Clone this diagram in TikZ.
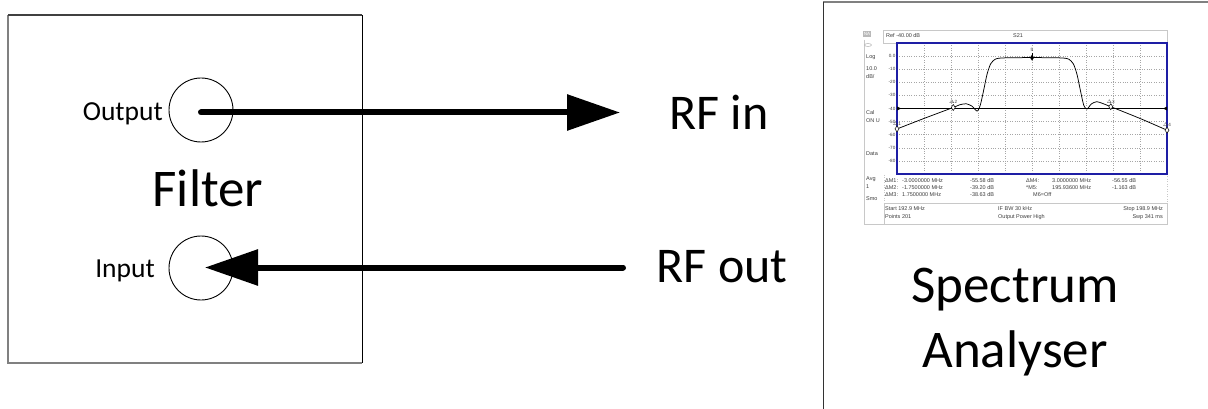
\documentclass[tikz,border=0pt]{standalone}
\usepackage{fontspec}
\setmainfont{Carlito}
\newfontfamily\scrfont{Liberation Sans}
\usetikzlibrary{arrows.meta}
\definecolor{plotblue}{RGB}{30,30,165}
\definecolor{scrtext}{RGB}{60,60,60}
\definecolor{framegray}{RGB}{200,200,200}
\begin{document}
\begin{tikzpicture}[x=1pt,y=-1pt,
  big/.style={font=\fontsize{50}{60}\selectfont, inner sep=0pt},
  huge/.style={font=\fontsize{53}{65}\selectfont, inner sep=0pt, align=center},
  portlbl/.style={font=\fontsize{27.5}{32}\selectfont, inner sep=0pt},
  port/.style={circle, draw, line width=0.9pt, minimum size=64pt, inner sep=0pt},
  conn/.style={line width=6pt, line cap=round, -{Triangle[length=53pt,width=35pt]}},
  sc/.style={font=\scrfont\fontsize{5.5}{6}\selectfont, inner sep=0pt, text=scrtext},
  scs/.style={font=\scrfont\fontsize{4.6}{5}\selectfont, inner sep=0pt, text=scrtext},
  gridl/.style={draw=gray!70, line width=0.4pt, dotted},
  mk/.style={draw=black, line width=0.5pt, fill=white},
]
\useasboundingbox (0,0) rectangle (1208,409);

% ---------- Filter box ----------
\draw[line width=2pt, draw=gray] (8,15) -- (8,363) -- (362,363);
\draw[line width=1.2pt, draw=black!75] (8,15) -- (362,15);
\draw[line width=1pt, draw=black] (362,15) -- (362,363);

\node[port] (outport) at (201,110) {};
\node[port] (inport) at (201,268) {};
\node[portlbl, anchor=base east] (outlbl) at (163,121) {Output};
\node[portlbl, anchor=base east] (inlbl) at (155,277) {Input};
\node[huge, anchor=base] (filter) at (208,207) {Filter};

% ---------- connectors ----------
\coordinate (outstart) at (201,112.5);
\coordinate (rfintip) at (620,112.5);
\coordinate (rfoutstart) at (623,267.5);
\coordinate (intip) at (205,267.5);
\draw[conn] (outstart) -- (rfintip);
\draw[conn] (rfoutstart) -- (intip);
\node[big, anchor=base] (rfin) at (719,130) {RF in};
\node[big, anchor=base] (rfout) at (722,282) {RF out};

% ---------- Spectrum analyser box ----------
\draw[line width=1.5pt, draw=gray] (823,2) -- (1208,2);
\draw[line width=1pt, draw=black!80] (823,2) -- (823,409);
\node[huge, anchor=base] (sa1) at (1015,302) {Spectrum};
\node[huge, anchor=base] (sa2) at (1015,367) {Analyser};

% ---------- analyser screen ----------
\draw[framegray, line width=0.5pt] (883,30) rectangle (1167,43);
\draw[framegray, line width=0.5pt] (864,40) -- (864,224) -- (884,224);
\draw[framegray, line width=0.5pt, dotted] (884,175) -- (884,203) -- (1167,203) -- (1167,175);
\draw[framegray, line width=0.5pt] (884,203) rectangle (1167,224);
\fill[gray!55] (863,31) rectangle (871,37);
\node[scs, text=white] (na) at (867,34) {NA};
\draw[gray!60, line width=0.5pt] (868,45) ellipse (3.5pt and 1.5pt);

\node[sc, anchor=west] (ref) at (886,35.5) {Ref -40.00 dB};
\node[sc, anchor=west] (s21) at (1013,35.5) {S21};

\node[sc, anchor=west] (k1) at (866,57) {Log};
\node[sc, anchor=west] (k2) at (866,69) {10.0};
\node[sc, anchor=west] (k3) at (866,77) {dB/};
\node[sc, anchor=west] (k4) at (866,113) {Cal};
\node[sc, anchor=west] (k5) at (866,121) {ON U};
\node[sc, anchor=west] (k6) at (866,154) {Data};
\node[sc, anchor=west] (k7) at (866,179) {Avg};
\node[sc, anchor=west] (k8) at (866,187) {1};
\node[sc, anchor=west] (k9) at (866,199) {Smo};

% plot area (page coordinates)
\coordinate (pnw) at (897,43);
\coordinate (pse) at (1167,174);
\foreach \k in {1,...,9} { \draw[gridl] (897+27*\k,43) -- (897+27*\k,174); }
\foreach \j in {1,2,3,4,6,7,8,9} { \draw[gridl] (897,43+13.1*\j) -- (1167,43+13.1*\j); }
\draw[black, line width=0.6pt] (897,108.5) -- (1167,108.5);
\foreach \j/\t/\n in {1/0.0/a,2/-10/b,3/-20/c,4/-30/d,5/-40/e,6/-50/f,7/-60/g,8/-70/h,9/-80/i} {
  \node[scs, anchor=east] (yl\n) at (895.5,43+13.1*\j) {\t};
}
\draw[plotblue, line width=1.3pt] (pnw) rectangle (pse);

\begin{scope}[shift={(1032,56.1)}, x=45pt, y=1.31pt]
  \fill[black] (-3,-40) ++(0pt,2pt) -- ++(4pt,-2pt) -- ++(-4pt,-2pt) -- cycle;
  \fill[black] (3,-40) ++(0pt,2pt) -- ++(-4pt,-2pt) -- ++(4pt,-2pt) -- cycle;
  \draw[black, line width=0.75pt, line join=round] plot[smooth, tension=0.45] coordinates {
    (-3,-55.6) (-2.4,-47.6) (-1.75,-39.2) (-1.6,-37.1) (-1.46,-36.4) (-1.33,-38.3)
    (-1.22,-42) (-1.15,-37.5) (-1.08,-27) (-1.0,-14) (-0.92,-6) (-0.82,-2.4)
    (-0.7,-1.5) (-0.4,-1.2) (0,-1.16) (0.4,-1.2) (0.7,-1.5) (0.82,-2.4)
    (0.92,-6) (1.0,-14) (1.08,-27) (1.15,-37.5) (1.22,-40.5) (1.32,-36.5)
    (1.44,-34.8) (1.58,-36.3) (1.75,-38.6) (2.4,-47.6) (3,-56.55)};
  \foreach \f/\d/\t in {-3/-55.58/1,-1.75/-39.2/2,1.75/-38.63/3,3/-56.55/4} {
    \draw[mk] (\f,\d) ++(0pt,3pt) -- ++(2pt,-3pt) -- ++(-2pt,-3pt) -- ++(-2pt,3pt) -- cycle;
    \node[scs, anchor=south] (ml\t) at ([yshift=3.3pt]\f,\d) {$\scriptscriptstyle\Delta$\t};
  }
  \fill[black] (0,-1.16) ++(0pt,3pt) -- ++(2pt,-3pt) -- ++(-2pt,-3pt) -- ++(-2pt,3pt) -- cycle;
  \draw[black, line width=0.6pt] (0,-1.16) -- ++(0pt,5pt);
  \node[scs, anchor=south] (ml5) at ([yshift=5.5pt]0,-1.16) {5};
\end{scope}

\node[sc, anchor=west] (r1a) at (885,181) {ΔM1:};
\node[sc, anchor=west] (r1b) at (902,181) {-3.0000000 MHz};
\node[sc, anchor=west] (r1c) at (970,181) {-55.58 dB};
\node[sc, anchor=west] (r1d) at (1026,181) {ΔM4:};
\node[sc, anchor=west] (r1e) at (1052,181) {3.0000000 MHz};
\node[sc, anchor=west] (r1f) at (1112,181) {-56.55 dB};
\node[sc, anchor=west] (r2a) at (885,188) {ΔM2:};
\node[sc, anchor=west] (r2b) at (902,188) {-1.7500000 MHz};
\node[sc, anchor=west] (r2c) at (970,188) {-39.20 dB};
\node[sc, anchor=west] (r2d) at (1026,188) {*M5:};
\node[sc, anchor=west] (r2e) at (1052,188) {195.93600 MHz};
\node[sc, anchor=west] (r2f) at (1112,188) {-1.163 dB};
\node[sc, anchor=west] (r3a) at (885,195) {ΔM3:};
\node[sc, anchor=west] (r3b) at (902,195) {1.7500000 MHz};
\node[sc, anchor=west] (r3c) at (970,195) {-38.63 dB};
\node[sc, anchor=west] (r3d) at (1033,195) {M6=Off};

\node[sc, anchor=west] (b1) at (885,209) {Start 192.9 MHz};
\node[sc, anchor=west] (b2) at (998,209) {IF BW 30 kHz};
\node[sc, anchor=east] (b3) at (1163,209) {Stop 198.9 MHz};
\node[sc, anchor=west] (b4) at (885,217) {Points 201};
\node[sc, anchor=west] (b5) at (998,217) {Output Power High};
\node[sc, anchor=east] (b6) at (1163,217) {Swp 341 ms};
\end{tikzpicture}
\end{document}
